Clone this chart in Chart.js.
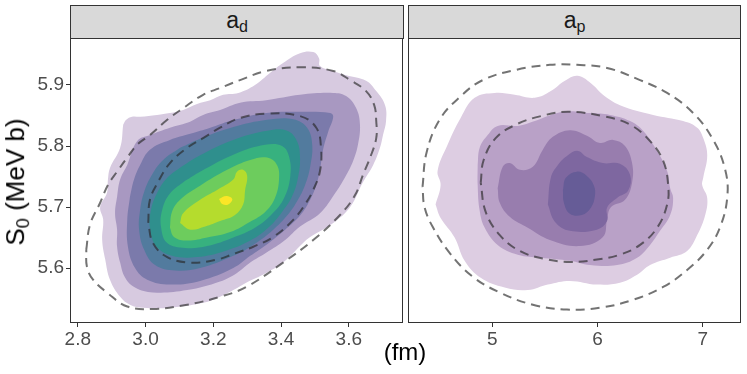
<!DOCTYPE html>
<html>
<head>
<meta charset="utf-8">
<script src="https://cdn.jsdelivr.net/npm/chart.js@4.4.1/dist/chart.umd.min.js"></script>
<style>
  body { margin: 0; background: #fff; font-family: "Liberation Sans", Arial, sans-serif; }
  #wrap { position: relative; width: 747px; height: 374px; overflow: hidden; }
  .box { position: absolute; }
  .strip { position: absolute; top: 5px; height: 34px; box-sizing: border-box; background: #d9d9d9;
           border: 1px solid #333; text-align: center; font-size: 23px; line-height: 29px; color: #1a1a1a; }
  .strip sub, .ytitle sub { font-size: 70%; line-height: 1; vertical-align: -0.25em; }
  .ytitle { position: absolute; left: 17px; top: 182px; transform: translate(-50%, -50%) rotate(-90deg);
            white-space: nowrap; font-size: 26px; line-height: 1; color: #000; }
  .xtitle { position: absolute; left: 405px; top: 352px; transform: translate(-50%, -50%);
            white-space: nowrap; font-size: 24px; line-height: 1; color: #000; }
</style>
</head>
<body>
<div id="wrap">
  <div class="strip" style="left:70px; width:334px;">a<sub>d</sub></div>
  <div class="strip" style="left:408px; width:333px;">a<sub>p</sub></div>
  <div class="box" style="left:0; top:30px; width:410px; height:330px;"><canvas id="chartAd"></canvas></div>
  <div class="box" style="left:400px; top:30px; width:347px; height:330px;"><canvas id="chartAp"></canvas></div>
  <div class="ytitle">S<sub>0</sub> (MeV b)</div>
  <div class="xtitle">(fm)</div>
</div>
<script>
// Оси
const xTicksAd = [2.8, 3.0, 3.2, 3.4, 3.6];
const xTicksAp = [5, 6, 7];
const yTicks = [5.6, 5.7, 5.8, 5.9];
const xRangeAd = [2.777, 3.760];
const xRangeAp = [4.198, 7.362];
const yRange = [5.51, 5.977];

// Контуры плотности, панель a_d (от внешнего к внутреннему)
const adLevel1 = [[2.934,5.835],[2.943,5.843],[2.960,5.848],[2.984,5.848],[3.034,5.851],[3.072,5.854],[3.111,5.859],[3.152,5.869],[3.191,5.875],[3.229,5.884],[3.274,5.887],[3.323,5.900],[3.368,5.920],[3.406,5.936],[3.456,5.952],[3.495,5.954],[3.512,5.944],[3.515,5.931],[3.554,5.923],[3.592,5.916],[3.651,5.907],[3.681,5.890],[3.707,5.867],[3.710,5.841],[3.701,5.818],[3.692,5.797],[3.672,5.769],[3.642,5.741],[3.604,5.700],[3.554,5.674],[3.486,5.651],[3.465,5.641],[3.406,5.609],[3.356,5.592],[3.297,5.576],[3.259,5.564],[3.220,5.553],[3.170,5.543],[3.072,5.535],[2.993,5.535],[2.954,5.540],[2.925,5.553],[2.895,5.581],[2.881,5.614],[2.872,5.646],[2.875,5.679],[2.866,5.700],[2.886,5.723],[2.889,5.745],[2.895,5.764],[2.925,5.797]];
const adLevel2 = [[2.946,5.769],[2.975,5.808],[3.013,5.818],[3.072,5.830],[3.123,5.838],[3.170,5.851],[3.220,5.859],[3.279,5.871],[3.356,5.875],[3.456,5.884],[3.554,5.887],[3.592,5.882],[3.622,5.862],[3.633,5.835],[3.627,5.802],[3.613,5.776],[3.589,5.749],[3.560,5.723],[3.515,5.690],[3.456,5.668],[3.412,5.646],[3.356,5.625],[3.309,5.609],[3.270,5.592],[3.220,5.578],[3.123,5.564],[3.022,5.560],[2.969,5.568],[2.940,5.584],[2.925,5.609],[2.916,5.635],[2.916,5.663],[2.910,5.690],[2.916,5.717],[2.925,5.745]];
const adLevel3 = [[2.954,5.717],[2.966,5.745],[2.984,5.769],[3.013,5.794],[3.072,5.810],[3.132,5.820],[3.191,5.830],[3.250,5.841],[3.356,5.854],[3.456,5.856],[3.545,5.854],[3.554,5.848],[3.539,5.823],[3.524,5.794],[3.515,5.761],[3.504,5.736],[3.486,5.712],[3.456,5.686],[3.412,5.663],[3.356,5.638],[3.309,5.620],[3.259,5.600],[3.161,5.579],[3.072,5.573],[3.005,5.581],[2.969,5.600],[2.948,5.635],[2.946,5.679]];
const adLevel4 = [[3.102,5.797],[3.161,5.812],[3.259,5.831],[3.359,5.843],[3.436,5.844],[3.477,5.830],[3.492,5.802],[3.486,5.766],[3.471,5.736],[3.447,5.709],[3.418,5.686],[3.377,5.663],[3.323,5.640],[3.259,5.620],[3.161,5.600],[3.087,5.596],[3.028,5.605],[2.996,5.630],[2.981,5.663],[2.984,5.695],[2.996,5.725],[3.019,5.753],[3.052,5.777]];
const adLevel5 = [[3.108,5.767],[3.161,5.785],[3.259,5.810],[3.359,5.825],[3.418,5.825],[3.447,5.808],[3.456,5.781],[3.450,5.748],[3.433,5.718],[3.403,5.692],[3.362,5.666],[3.309,5.645],[3.235,5.628],[3.152,5.618],[3.078,5.620],[3.031,5.636],[3.013,5.666],[3.016,5.695],[3.034,5.723],[3.064,5.748]];
const adLevel6 = [[3.117,5.743],[3.161,5.758],[3.264,5.787],[3.353,5.802],[3.403,5.800],[3.424,5.782],[3.427,5.749],[3.409,5.715],[3.374,5.689],[3.323,5.666],[3.259,5.650],[3.182,5.636],[3.117,5.633],[3.064,5.641],[3.046,5.666],[3.049,5.695],[3.072,5.722]];
const adLevel7 = [[3.072,5.666],[3.078,5.692],[3.102,5.712],[3.161,5.735],[3.241,5.761],[3.309,5.777],[3.359,5.781],[3.388,5.769],[3.394,5.745],[3.382,5.715],[3.353,5.692],[3.309,5.676],[3.250,5.659],[3.182,5.650],[3.123,5.645],[3.084,5.651]];
const adLevel8 = [[3.102,5.674],[3.111,5.690],[3.161,5.712],[3.211,5.728],[3.259,5.745],[3.270,5.758],[3.288,5.761],[3.300,5.751],[3.294,5.728],[3.288,5.704],[3.264,5.687],[3.220,5.677],[3.176,5.668],[3.132,5.663]];
const adLevel9 = [[3.217,5.713],[3.238,5.718],[3.256,5.713],[3.244,5.704],[3.226,5.705]];

// Контуры плотности, панель a_p
const apLevel1 = [[4.460,5.704],[4.508,5.736],[4.479,5.759],[4.574,5.802],[4.698,5.846],[4.831,5.879],[5.022,5.887],[5.212,5.884],[5.403,5.879],[5.555,5.890],[5.689,5.907],[5.812,5.915],[5.955,5.900],[6.050,5.884],[6.212,5.867],[6.527,5.851],[6.812,5.841],[6.946,5.830],[7.003,5.813],[7.041,5.785],[7.003,5.748],[6.993,5.736],[7.041,5.715],[7.022,5.687],[6.946,5.654],[6.850,5.628],[6.689,5.617],[6.498,5.605],[6.375,5.589],[6.212,5.576],[5.993,5.573],[5.736,5.579],[5.527,5.573],[5.336,5.564],[5.117,5.568],[4.889,5.584],[4.736,5.612],[4.641,5.650],[4.508,5.682]];
const apLevel2 = [[4.860,5.769],[4.879,5.797],[4.955,5.818],[5.050,5.833],[5.241,5.833],[5.403,5.841],[5.555,5.851],[5.717,5.857],[5.927,5.854],[6.117,5.851],[6.308,5.841],[6.431,5.825],[6.565,5.792],[6.660,5.759],[6.689,5.731],[6.717,5.715],[6.689,5.687],[6.593,5.661],[6.498,5.638],[6.375,5.617],[6.184,5.605],[5.927,5.605],[5.736,5.612],[5.460,5.617],[5.241,5.622],[5.050,5.638],[4.927,5.666],[4.879,5.694],[4.860,5.736]];
const apLevel3 = [[5.050,5.731],[5.098,5.766],[5.165,5.772],[5.260,5.761],[5.384,5.766],[5.479,5.794],[5.574,5.815],[5.736,5.826],[5.898,5.817],[6.022,5.805],[6.146,5.810],[6.260,5.800],[6.327,5.772],[6.327,5.740],[6.260,5.712],[6.127,5.700],[6.089,5.679],[6.050,5.651],[5.831,5.636],[5.546,5.646],[5.336,5.666],[5.165,5.684],[5.070,5.707]];
const apLevel4 = [[5.527,5.704],[5.555,5.748],[5.622,5.769],[5.717,5.785],[5.812,5.792],[5.898,5.782],[6.050,5.772],[6.212,5.771],[6.308,5.753],[6.290,5.727],[6.184,5.715],[6.089,5.699],[6.089,5.677],[5.993,5.663],[5.736,5.661],[5.593,5.676]];
const apLevel5 = [[5.670,5.728],[5.698,5.748],[5.803,5.758],[5.898,5.751],[5.965,5.735],[5.974,5.718],[5.936,5.699],[5.850,5.687],[5.736,5.689],[5.679,5.707]];

// Эллипсы (штриховые линии)
const adEllipseOuter = [[2.825,5.630],[2.836,5.671],[2.866,5.707],[2.889,5.736],[2.916,5.758],[2.946,5.781],[2.975,5.802],[3.013,5.818],[3.064,5.843],[3.111,5.862],[3.170,5.884],[3.220,5.895],[3.279,5.908],[3.356,5.923],[3.456,5.929],[3.554,5.923],[3.604,5.908],[3.651,5.890],[3.675,5.867],[3.681,5.841],[3.681,5.813],[3.663,5.781],[3.642,5.753],[3.619,5.720],[3.574,5.687],[3.495,5.646],[3.406,5.609],[3.297,5.569],[3.220,5.553],[3.123,5.540],[3.022,5.533],[2.946,5.537],[2.886,5.560],[2.845,5.581],[2.827,5.602]];
const adEllipseInner = [[3.008,5.674],[3.013,5.712],[3.037,5.741],[3.072,5.772],[3.123,5.797],[3.170,5.813],[3.220,5.830],[3.279,5.846],[3.356,5.853],[3.456,5.849],[3.504,5.830],[3.518,5.797],[3.515,5.759],[3.495,5.728],[3.474,5.707],[3.436,5.679],[3.377,5.651],[3.318,5.635],[3.259,5.623],[3.211,5.614],[3.132,5.609],[3.064,5.618],[3.022,5.641]];
const apEllipseOuter = [[4.336,5.733],[4.374,5.789],[4.498,5.843],[4.689,5.880],[4.908,5.908],[5.231,5.925],[5.546,5.933],[5.803,5.933],[6.089,5.928],[6.403,5.908],[6.660,5.887],[6.908,5.854],[7.098,5.810],[7.212,5.761],[7.232,5.717],[7.165,5.668],[7.041,5.630],[6.850,5.597],[6.622,5.569],[6.337,5.548],[6.022,5.535],[5.708,5.532],[5.384,5.540],[5.070,5.560],[4.812,5.586],[4.593,5.625],[4.431,5.668],[4.355,5.700]];
const apEllipseInner = [[4.889,5.740],[4.917,5.777],[5.031,5.813],[5.222,5.835],[5.460,5.849],[5.717,5.856],[6.050,5.849],[6.308,5.835],[6.498,5.808],[6.622,5.776],[6.670,5.736],[6.660,5.704],[6.565,5.666],[6.403,5.638],[6.212,5.622],[5.993,5.614],[5.736,5.610],[5.498,5.615],[5.260,5.628],[5.070,5.654],[4.936,5.692]];

// Цвета уровней
const adColors = ['#d7cae0', '#a898c1', '#7b7aab', '#527b9e', '#2f8f8d', '#37b17f', '#6dcc5d', '#b5dc2d', '#fbe626'];
const apColors = ['#ddcde2', '#b9a1c7', '#987dae', '#7e67a0', '#665c97'];

const fontFamily = '"Liberation Sans", Arial, sans-serif';

// Замкнутый контур
function ring(pts) {
    const d = pts.map(p => ({ x: p[0], y: p[1] }));
    d.push({ x: pts[0][0], y: pts[0][1] });
    return d;
}

function buildDatasets(levels, colors, ellipses) {
    const sets = levels.map((pts, i) => ({
        data: ring(pts),
        showLine: true,
        fill: 'shape',
        backgroundColor: colors[i],
        borderWidth: 0,
        pointRadius: 0,
        tension: 0.4,
        order: levels.length - i + 1
    }));
    ellipses.forEach(pts => sets.push({
        data: ring(pts),
        showLine: true,
        fill: false,
        borderColor: 'rgba(40,40,40,0.65)',
        borderWidth: 2,
        borderDash: [9, 6],
        pointRadius: 0,
        tension: 0.4,
        order: 0
    }));
    return sets;
}

// Рамка панели
const framePlugin = {
    id: 'frame',
    afterDraw(chart) {
        const { ctx, chartArea: a } = chart;
        ctx.save();
        ctx.strokeStyle = '#333';
        ctx.lineWidth = 1;
        ctx.strokeRect(a.left + 0.5, a.top + 0.5, a.right - a.left - 1, a.bottom - a.top - 1);
        ctx.restore();
    }
};

function makeChart(id, levels, colors, ellipses, xRange, xTicks, decimals, showY, padding) {
    return new Chart(document.getElementById(id), {
        type: 'scatter',
        data: { datasets: buildDatasets(levels, colors, ellipses) },
        options: {
            responsive: true,
            maintainAspectRatio: false,
            animation: false,
            events: [],
            layout: { padding: padding, autoPadding: false },
            plugins: { legend: { display: false }, tooltip: { enabled: false } },
            scales: {
                x: {
                    type: 'linear',
                    min: xRange[0],
                    max: xRange[1],
                    afterBuildTicks: s => { s.ticks = xTicks.map(v => ({ value: v })); },
                    afterFit: s => { s.height = 37; s.paddingLeft = 0; s.paddingRight = 0; },
                    grid: { display: true, drawOnChartArea: false, drawTicks: true, tickLength: 4, color: '#333' },
                    border: { display: false },
                    ticks: {
                        color: '#4d4d4d',
                        font: { size: 19, family: fontFamily },
                        padding: 1,
                        maxRotation: 0,
                        autoSkip: false,
                        callback: v => v.toFixed(decimals)
                    }
                },
                y: {
                    type: 'linear',
                    display: showY,
                    min: yRange[0],
                    max: yRange[1],
                    afterBuildTicks: s => { s.ticks = yTicks.map(v => ({ value: v })); },
                    afterFit: s => {
                        s.width = showY ? 70 : 0;
                        s.paddingTop = 0;
                        s.paddingBottom = 0;
                    },
                    grid: { display: true, drawOnChartArea: false, drawTicks: true, tickLength: 4, color: '#333' },
                    border: { display: false },
                    ticks: {
                        color: '#4d4d4d',
                        font: { size: 19, family: fontFamily },
                        padding: 2,
                        autoSkip: false,
                        callback: v => v.toFixed(1)
                    }
                }
            }
        },
        plugins: [framePlugin]
    });
}

makeChart('chartAd',
    [adLevel1, adLevel2, adLevel3, adLevel4, adLevel5, adLevel6, adLevel7, adLevel8, adLevel9],
    adColors, [adEllipseOuter, adEllipseInner],
    xRangeAd, xTicksAd, 1, true, { top: 8, right: 7, left: 0, bottom: 0 });

makeChart('chartAp',
    [apLevel1, apLevel2, apLevel3, apLevel4, apLevel5],
    apColors, [apEllipseOuter, apEllipseInner],
    xRangeAp, xTicksAp, 0, false, { top: 8, right: 6, left: 8, bottom: 0 });
</script>
</body>
</html>
